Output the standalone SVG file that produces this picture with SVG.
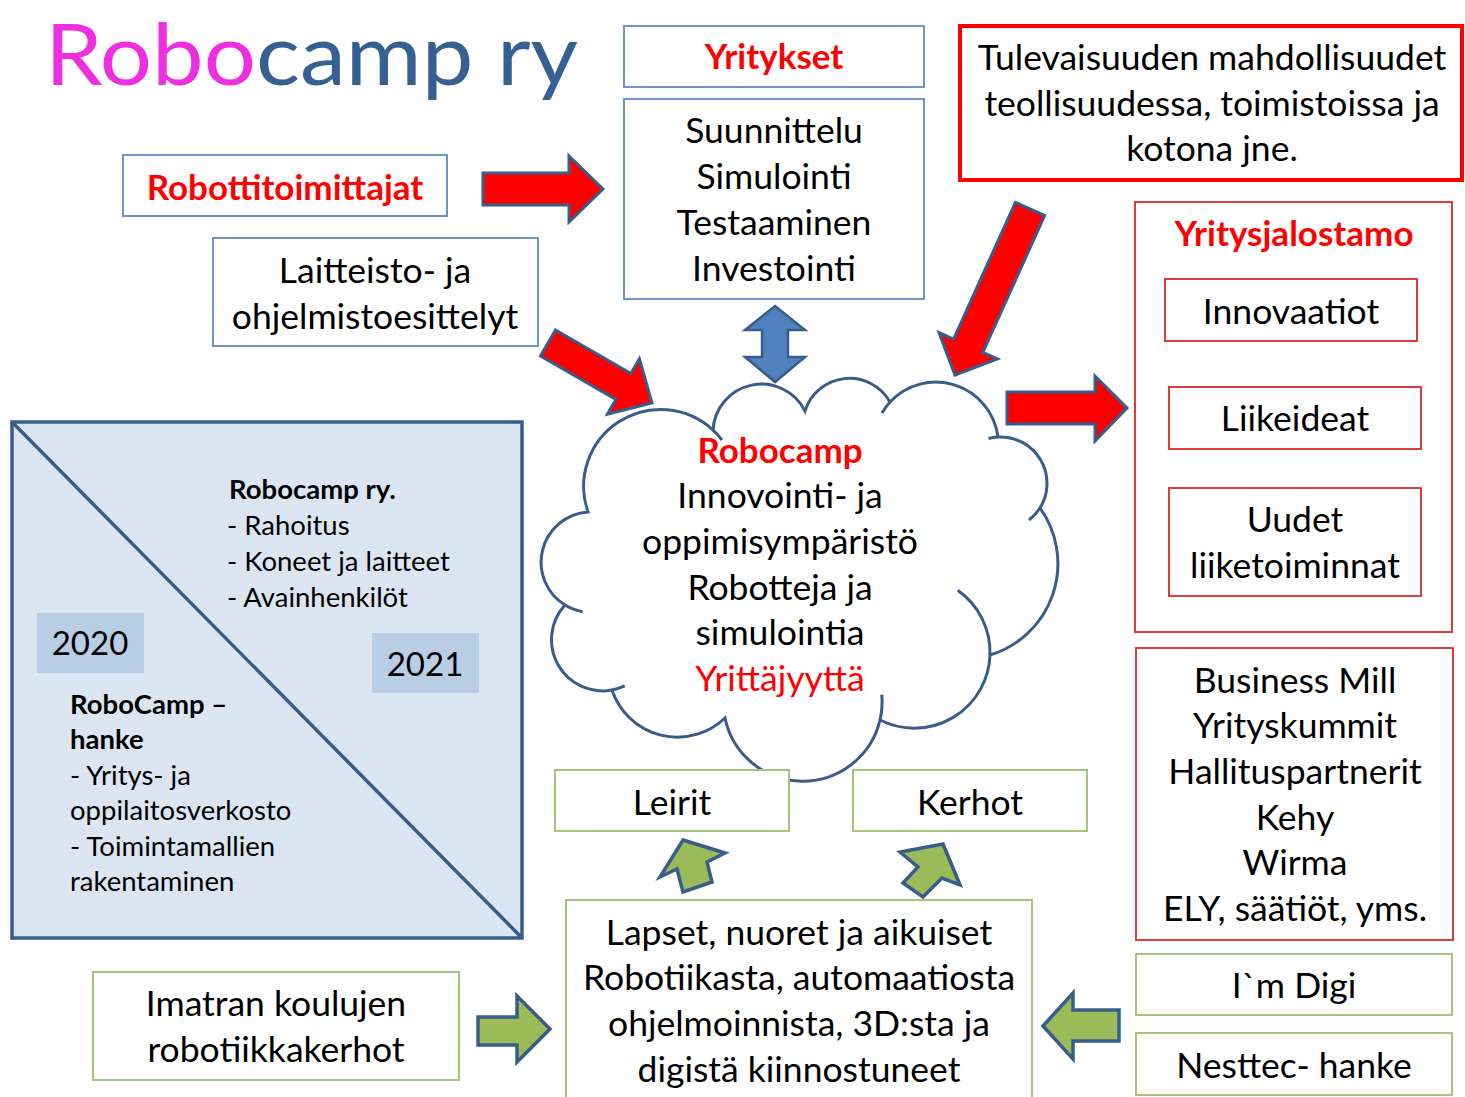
<svg xmlns="http://www.w3.org/2000/svg" width="1465" height="1097" viewBox="0 0 1465 1097">
<style>
text{font-family:Lato,"Liberation Sans",sans-serif;fill:#000;}
.t{font-size:35.5px;text-anchor:middle;}
.y{font-size:33px;text-anchor:middle;}
.rb{font-weight:bold;fill:#FF0000;font-size:35px;}
.red{fill:#FF0000;}
.s{font-size:27.5px;}
.b{font-weight:bold;}
.bbox{fill:#fff;stroke:#6E95C8;stroke-width:2;}
.rbox{fill:#fff;stroke:#E03C3C;stroke-width:2;}
.gbox{fill:#fff;stroke:#A8C47A;stroke-width:2;}
.rarrow{fill:#FF0000;stroke:#385D8A;stroke-width:3;stroke-linejoin:miter;}
.garrow{fill:#9BBB59;stroke:#385D8A;stroke-width:3.5;stroke-linejoin:miter;}
.barrow{fill:#4F81BD;stroke:#385D8A;stroke-width:2.5;}
.cloud{fill:#fff;stroke:#385D8A;stroke-width:3;}
.tick{fill:none;stroke:#385D8A;stroke-width:3;}
</style>
<rect width="1465" height="1097" fill="#fff"/>

<g id="title">
<text x="45" y="85" textLength="533" lengthAdjust="spacingAndGlyphs" style="font-size:86px"><tspan fill="#EE2FE0">Robo</tspan><tspan fill="#376092">camp ry</tspan></text>
</g>

<g id="connectors">
<path class="rarrow" d="M483,173 L569,173 L569,156 L603,189 L569,222 L569,205 L483,205 Z"/>
<path class="rarrow" d="M555.5,330 L630.9,373.5 L639.4,358.8 L652,403 L607.4,414.2 L615.9,399.5 L540.5,356 Z"/>
<path class="barrow" d="M775,306 L805,330 L788,330 L788,357 L805,357 L775,382 L745,357 L762,357 L762,330 L745,330 Z"/>
<path class="rarrow" d="M1015.4,202.4 L1044.6,215.6 L982.8,352.4 L997.4,359 L955,375 L939,332.6 L953.6,339.2 Z"/>
<path class="rarrow" d="M1007,392 L1095,392 L1095,376 L1127,408 L1095,441 L1095,424 L1007,424 Z"/>
<path class="garrow" d="M683,840 L725,853 L707,862 L712,882 L683,892 L677,869 L660,877 Z"/>
<path class="garrow" d="M943,844 L960,885 L942,878 L923,897 L903,883 L918,867 L900,852 Z"/>
<path class="garrow" d="M478,1017 L517,1017 L517,996 L550,1029 L517,1062 L517,1045 L478,1045 Z"/>
<path class="garrow" d="M1043,1026 L1073,993 L1073,1010 L1119,1010 L1119,1041 L1073,1041 L1073,1059 Z"/>
</g>

<g id="yritykset">
<rect class="bbox" x="624" y="26" width="300" height="61"/>
<text class="t rb" x="774" y="69">Yritykset</text>
</g>

<g id="suunnittelu">
<rect class="bbox" x="624" y="99" width="300" height="200"/>
<text class="t" x="774" y="143">Suunnittelu</text>
<text class="t" x="774" y="189">Simulointi</text>
<text class="t" x="774" y="235">Testaaminen</text>
<text class="t" x="774" y="281">Investointi</text>
</g>

<g id="tulevaisuus">
<rect x="960" y="26" width="502" height="154" fill="#fff" stroke="#FF0000" stroke-width="4"/>
<text class="t" x="1212" y="70">Tulevaisuuden mahdollisuudet</text>
<text class="t" x="1212" y="116">teollisuudessa, toimistoissa ja</text>
<text class="t" x="1212" y="161">kotona jne.</text>
</g>

<g id="robottitoimittajat">
<rect class="bbox" x="123" y="155" width="324" height="61"/>
<text class="t rb" x="285" y="200">Robottitoimittajat</text>
</g>

<g id="laitteisto">
<rect class="bbox" x="213" y="238" width="325" height="108"/>
<text class="t" x="375" y="283">Laitteisto- ja</text>
<text class="t" x="375" y="329">ohjelmistoesittelyt</text>
</g>

<g id="yritysjalostamo">
<rect class="rbox" x="1135" y="202" width="317" height="430"/>
<text class="t rb" x="1294" y="246">Yritysjalostamo</text>
<rect class="rbox" x="1165" y="279" width="252" height="62"/>
<text class="t" x="1291" y="324">Innovaatiot</text>
<rect class="rbox" x="1169" y="387" width="252" height="62"/>
<text class="t" x="1295" y="431">Liikeideat</text>
<rect class="rbox" x="1169" y="488" width="252" height="108"/>
<text class="t" x="1295" y="532">Uudet</text>
<text class="t" x="1295" y="578">liiketoiminnat</text>
</g>

<g id="rahoittajat">
<rect class="rbox" x="1136" y="648" width="317" height="292"/>
<text class="t" x="1295" y="693">Business Mill</text>
<text class="t" x="1295" y="738">Yrityskummit</text>
<text class="t" x="1295" y="784">Hallituspartnerit</text>
<text class="t" x="1295" y="830">Kehy</text>
<text class="t" x="1295" y="875">Wirma</text>
<text class="t" x="1295" y="921">ELY, säätiöt, yms.</text>
</g>

<g id="imdigi">
<rect class="gbox" x="1136" y="954" width="316" height="61"/>
<text class="t" x="1294" y="998">I`m Digi</text>
</g>

<g id="nesttec">
<rect class="gbox" x="1136" y="1033" width="316" height="62"/>
<text class="t" x="1294" y="1078">Nesttec- hanke</text>
</g>

<g id="aikajana">
<rect x="12" y="422" width="510" height="516" fill="#DCE6F2" stroke="#385D8A" stroke-width="3.5"/>
<line x1="12" y1="422" x2="522" y2="938" stroke="#385D8A" stroke-width="3.5"/>
<rect x="37" y="613" width="107" height="60" fill="#B9CDE5"/>
<text class="y" x="90" y="655">2020</text>
<rect x="372" y="633" width="107" height="60" fill="#B9CDE5"/>
<text class="y" x="425" y="676">2021</text>
<text class="s b" x="229" y="499">Robocamp ry.</text>
<text class="s" x="227" y="535">- Rahoitus</text>
<text class="s" x="227" y="571">- Koneet ja laitteet</text>
<text class="s" x="227" y="607">- Avainhenkilöt</text>
<text class="s b" x="70" y="714">RoboCamp –</text>
<text class="s b" x="70" y="749">hanke</text>
<text class="s" x="70" y="785">- Yritys- ja</text>
<text class="s" x="70" y="820">oppilaitosverkosto</text>
<text class="s" x="70" y="856">- Toimintamallien</text>
<text class="s" x="70" y="891">rakentaminen</text>
</g>

<g id="robocamp">
<path class="cloud" d="M588,512 A77,77 0 0 1 713,430 A48.6,48.6 0 0 1 805,411 A46.6,46.6 0 0 1 890,402 A62.7,62.7 0 0 1 998,437 A46.5,46.5 0 0 1 1040,508 A95.4,95.4 0 0 1 990,655 A75.8,75.8 0 0 1 880,720 A79.4,79.4 0 0 1 725,718 A68.9,68.9 0 0 1 612,690 A51.2,51.2 0 0 1 565,605 A50.3,50.3 0 0 1 588,512 Z"/>
<path class="tick" d="M713,430 A77,77 0 0 1 722,440"/>
<path class="tick" d="M882,413 A62.7,62.7 0 0 1 890,402"/>
<path class="tick" d="M988.5,438.5 A46.5,46.5 0 0 1 998,437"/>
<path class="tick" d="M1040,508 A46.5,46.5 0 0 1 1029,520"/>
<path class="tick" d="M957.7,590.3 A75.8,75.8 0 0 1 990,655"/>
<path class="tick" d="M881.8,694.7 A79.4,79.4 0 0 1 880,720"/>
<path class="tick" d="M624.7,685.9 A51.2,51.2 0 0 1 612,690"/>
<path class="tick" d="M582.7,611.7 A50.3,50.3 0 0 1 565,605"/>
<text class="t rb" x="780" y="463">Robocamp</text>
<text class="t" x="780" y="508">Innovointi- ja</text>
<text class="t" x="780" y="554">oppimisympäristö</text>
<text class="t" x="780" y="600">Robotteja ja</text>
<text class="t" x="780" y="645">simulointia</text>
<text class="t red" x="780" y="691">Yrittäjyyttä</text>
</g>

<g id="leirit">
<rect class="gbox" x="555" y="770" width="234" height="61"/>
<text class="t" x="672" y="815">Leirit</text>
</g>

<g id="kerhot">
<rect class="gbox" x="853" y="770" width="234" height="61"/>
<text class="t" x="970" y="815">Kerhot</text>
</g>

<g id="lapset">
<rect class="gbox" x="566" y="900" width="466" height="210"/>
<text class="t" x="799" y="945">Lapset, nuoret ja aikuiset</text>
<text class="t" x="799" y="990">Robotiikasta, automaatiosta</text>
<text class="t" x="799" y="1036">ohjelmoinnista, 3D:sta ja</text>
<text class="t" x="799" y="1082">digistä kiinnostuneet</text>
</g>

<g id="imatra">
<rect class="gbox" x="93" y="972" width="366" height="108"/>
<text class="t" x="276" y="1016">Imatran koulujen</text>
<text class="t" x="276" y="1062">robotiikkakerhot</text>
</g>
</svg>
